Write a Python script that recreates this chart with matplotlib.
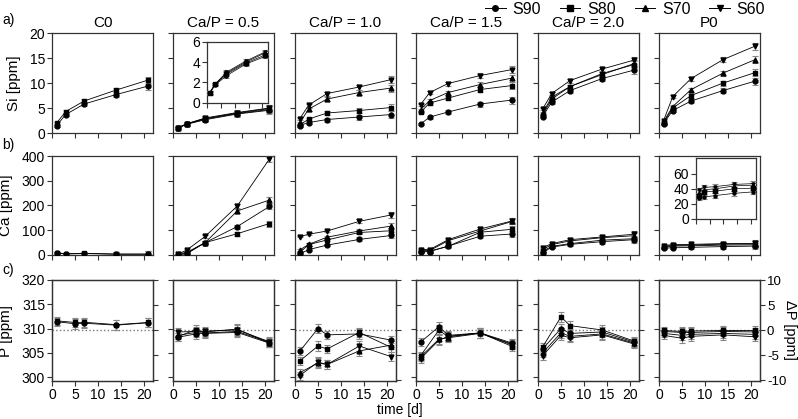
import numpy as np
import matplotlib.pyplot as plt
from matplotlib.lines import Line2D

# ---- data ----
panels = ['C0', 'Ca/P = 0.5', 'Ca/P = 1.0', 'Ca/P = 1.5', 'Ca/P = 2.0', 'P0']
series = ['S90', 'S80', 'S70', 'S60']
markers = {'S90': 'o', 'S80': 's', 'S70': '^', 'S60': 'v'}
days = [1, 3, 7, 14, 21]
days_p = [1, 5, 7, 14, 21]

# Si [ppm], one list per panel
si_S90 = [[1.5, 3.7, 5.8, 7.7, 9.4], [0.95, 1.75, 2.65, 3.8, 4.55], [1.5, 2.1, 2.7, 3.2, 3.7],
          [1.8, 3.2, 4.2, 5.8, 6.6], [3.3, 6.2, 8.5, 10.9, 12.6], [1.9, 4.5, 6.4, 8.5, 10.4]]
si_S80 = [[2.0, 4.3, 6.4, 8.6, 10.6], [1.0, 1.8, 2.8, 3.9, 4.7], [1.6, 2.8, 4.0, 4.5, 5.1],
          [4.2, 6.0, 7.0, 8.7, 9.5], [3.6, 6.8, 9.3, 11.9, 13.7], [2.1, 5.0, 7.5, 10.0, 12.1]]
si_S70 = [None, [1.0, 1.85, 2.9, 4.0, 4.9], [2.0, 4.8, 6.8, 8.1, 9.0],
          [4.7, 6.5, 8.1, 9.7, 11.0], [4.0, 7.2, 9.3, 11.7, 13.9], [2.3, 5.3, 8.7, 12.0, 14.7]]
si_S60 = [None, [1.0, 1.85, 3.0, 4.1, 5.0], [2.8, 5.6, 7.9, 9.2, 10.7],
          [5.7, 8.1, 9.9, 11.5, 12.7], [4.8, 7.9, 10.5, 12.8, 14.6], [2.5, 7.3, 10.9, 14.7, 17.4]]
si_err = [0.2, 0.3, 0.4, 0.5, 0.7]

# Ca [ppm]
ca_S90 = [[8, 4, 6, 3, 3], [0, 8, 50, 115, 196], [4, 22, 40, 63, 79],
          [12, 14, 36, 76, 85], [9, 32, 43, 54, 62], [28, 29, 31, 34, 36]]
ca_S80 = [[9, 5, 7, 4, 4], [2, 5, 50, 86, 127], [10, 42, 61, 91, 98],
          [16, 16, 35, 92, 104], [15, 35, 46, 60, 66], [31, 36, 37, 40, 41]]
ca_S70 = [None, [5, 10, 50, 178, 222], [20, 43, 72, 97, 117],
          [20, 18, 58, 97, 136], [22, 42, 57, 70, 78], [35, 39, 40, 44, 45]]
ca_S60 = [None, [3, 20, 75, 198, 388], [74, 84, 97, 136, 162],
          [22, 22, 62, 105, 138], [30, 46, 62, 73, 84], [38, 42, 43, 46, 47]]
ca_err = [3, 5, 5, 8, 12]

# P [ppm]
p_S90 = [[311.4, 311.0, 311.1, 310.7, 311.2], [308.2, 308.9, 309.0, 309.2, 307.0],
         [305.3, 310.0, 308.7, 308.9, 307.6], [307.2, 310.4, 308.6, 309.1, 307.0],
         [305.8, 310.0, 309.0, 309.3, 307.2], [309.4, 309.2, 309.2, 309.4, 309.3]]
p_S80 = [[311.6, 311.25, 311.3, 310.8, 311.25], [308.3, 309.8, 309.1, 309.4, 307.2],
         [303.3, 306.4, 305.8, 309.2, 306.1], [304.4, 309.7, 308.3, 309.1, 306.3],
         [306.2, 312.4, 310.6, 309.7, 307.4], [309.6, 309.4, 309.5, 309.6, 309.6]]
p_S70 = [None, [308.6, 309.2, 309.3, 309.9, 307.0], [300.9, 302.9, 302.6, 305.4, 306.6],
         [304.2, 307.8, 308.1, 309.0, 306.8], [305.0, 309.1, 308.4, 308.9, 307.0],
         [309.0, 308.6, 308.8, 309.0, 308.8]]
p_S60 = [None, [309.3, 309.4, 309.5, 309.7, 307.3], [300.3, 303.1, 302.6, 306.4, 304.2],
         [303.8, 307.6, 308.4, 309.1, 306.6], [304.4, 308.6, 308.1, 308.7, 306.8],
         [308.6, 308.0, 308.4, 308.7, 308.3]]
p_err = [0.8, 1.0, 0.9, 1.0, 0.9]
p_ref = 309.6

rows = [
    {'S90': si_S90, 'S80': si_S80, 'S70': si_S70, 'S60': si_S60},
    {'S90': ca_S90, 'S80': ca_S80, 'S70': ca_S70, 'S60': ca_S60},
    {'S90': p_S90, 'S80': p_S80, 'S70': p_S70, 'S60': p_S60},
]
errs = [si_err, ca_err, p_err]
row_days = [days, days, days_p]

# ---- layout ----
W, H = 798, 419
col_left = [52, 173, 295, 416, 538, 659]
col_w = 101
row_top = [33, 156, 280]
row_h = [100, 99, 101]

plt.rcParams['font.family'] = 'Liberation Sans'
plt.rcParams['font.size'] = 10
plt.rcParams['axes.unicode_minus'] = False
spine_c = '#333333'


def style(ax, size=10):
    for s in ax.spines.values():
        s.set_color(spine_c)
        s.set_linewidth(0.9)
    ax.tick_params(direction='out', length=3.5, width=0.8, color=spine_c,
                   labelsize=size, pad=1.5)


def draw(ax, x, data, err, i, ms=3.5, lw=0.6):
    for s in series:
        y = data[s][i]
        if y is None:
            continue
        ax.errorbar(x, y, yerr=err, color='black', ecolor='#888888', elinewidth=0.8,
                    capsize=2, capthick=0.8, marker=markers[s], ms=ms, lw=lw, zorder=3)


fig = plt.figure(figsize=(W / 100, H / 100), dpi=100)

ylims = [(0, 20), (0, 400), (299.2, 320)]
yticks = [[0, 5, 10, 15, 20], [0, 100, 200, 300, 400], [300, 305, 310, 315, 320]]
ylabels = ['Si [ppm]', 'Ca [ppm]', 'P [ppm]']

for r in range(3):
    for c in range(6):
        ax = fig.add_axes([col_left[c] / W, 1 - (row_top[r] + row_h[r]) / H,
                           col_w / W, row_h[r] / H])
        draw(ax, row_days[r], rows[r], errs[r], c)
        ax.set_xlim(0, 22)
        ax.set_ylim(*ylims[r])
        ax.set_xticks([0, 5, 10, 15, 20])
        ax.set_yticks(yticks[r])
        style(ax)
        if r < 2:
            ax.set_xticklabels([])
        if c > 0:
            ax.set_yticklabels([])
        else:
            ax.set_ylabel(ylabels[r], fontsize=11, labelpad=6)
        if r == 0:
            ax.set_title(panels[c], fontsize=11, pad=4)
        if r == 2:
            ax.axhline(p_ref, color='#777777', ls=':', lw=1, zorder=1)
            ax2 = ax.twinx()
            ax2.set_ylim(-10.1, 10.05)
            ax2.set_yticks([-10, -5, 0, 5, 10])
            style(ax2, size=9.5)
            if c < 5:
                ax2.set_yticklabels([])

fig.text(790 / W, 1 - 330 / H, 'ΔP [ppm]', fontsize=10.5, rotation=270,
         ha='center', va='center')

# insets
ins1 = fig.add_axes([207 / W, 1 - 102.7 / H, 61 / W, 61 / H])
draw(ins1, days, rows[0], [0.15, 0.1, 0.2, 0.15, 0.2], 1, ms=2.2, lw=0.5)
ins1.set_xlim(0, 22)
ins1.set_ylim(0, 6)
ins1.set_xticks([0, 5, 10, 15, 20])
ins1.set_xticklabels([])
ins1.set_yticks([0, 2, 4, 6])
style(ins1)

ins2 = fig.add_axes([696 / W, 1 - 218.7 / H, 60 / W, 60.4 / H])
draw(ins2, days, rows[1], [3, 3, 3, 3, 3], 5, ms=2.2, lw=0.5)
ins2.set_xlim(0, 22)
ins2.set_ylim(0, 81)
ins2.set_xticks([0, 5, 10, 15, 20])
ins2.set_xticklabels([])
ins2.set_yticks([0, 20, 40, 60])
style(ins2)

# panel letters
for lab, ypx in zip(['a)', 'b)', 'c)'], [20, 145, 270]):
    fig.text(2 / W, 1 - ypx / H, lab, fontsize=10, va='center')

fig.text(400 / W, 1 - 410 / H, 'time [d]', fontsize=10, ha='center', va='center')

handles = [Line2D([0], [0], color='black', marker=markers[s], ms=4, lw=0.7) for s in series]
fig.legend(handles, series, loc='center', bbox_to_anchor=(625 / W, 1 - 9 / H), ncol=4,
           frameon=False, fontsize=11.5, handlelength=1.3, columnspacing=1.2, handletextpad=0.4)

fig.savefig('out.png', dpi=100)
